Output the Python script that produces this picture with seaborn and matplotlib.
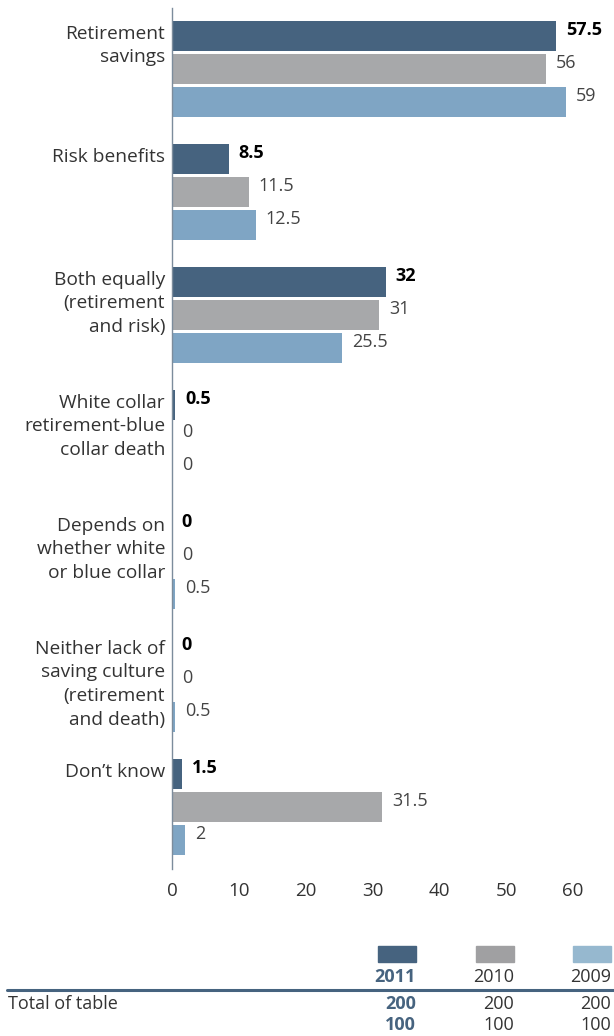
import numpy as np
import pandas as pd
import matplotlib.pyplot as plt
import seaborn as sns
from matplotlib.patches import Rectangle
from matplotlib.lines import Line2D

# data
categories = ["Retirement\nsavings", "Risk benefits", "Both equally\n(retirement\nand risk)",
              "White collar\nretirement-blue\ncollar death", "Depends on\nwhether white\nor blue collar",
              "Neither lack of\nsaving culture\n(retirement\nand death)", "Don\u2019t know"]
years = ["2011", "2010", "2009"]
v2011 = [57.5, 8.5, 32, 0.5, 0, 0, 1.5]
v2010 = [56, 11.5, 31, 0, 0, 0, 31.5]
v2009 = [59, 12.5, 25.5, 0, 0.5, 0.5, 2]
totals = [200, 200, 200]
pcts = [100, 100, 100]

colors = ['#46637F', '#A7A8AA', '#7FA5C4']
legend_colors = ['#46637F', '#A0A0A2', '#96B8CF']

df = pd.DataFrame({
    'category': categories * 3,
    'value': v2011 + v2010 + v2009,
    'year': [y for y in years for _ in categories],
})

sns.set_style('white')
plt.rcParams['font.family'] = ['Open Sans', 'DejaVu Sans']

W, H = 614, 1036
fig = plt.figure(figsize=(W / 100, H / 100), dpi=100)
ax = fig.add_axes([172 / W, 1 - 868.5 / H, 441 / W, 861 / H])

sns.barplot(data=df, y='category', x='value', hue='year', palette=colors, orient='h',
            width=0.8, gap=0.1, legend=False, ax=ax, saturation=1, linewidth=0)

ax.set_xlim(0, 66)
ax.set_ylim(6.5, -0.5)
ax.set_xticks(range(0, 61, 10))
ax.tick_params(axis='x', labelsize=13.5, colors='#333333', length=0, pad=10)
ax.set_yticks([])
ax.set_xlabel('')
ax.set_ylabel('')
for s in ['top', 'right', 'bottom']:
    ax.spines[s].set_visible(False)
ax.spines['left'].set_color('#7C8C9C')
ax.spines['left'].set_linewidth(1)

# category labels aligned at top of each group
for i, cat in enumerate(categories):
    ax.annotate(cat, xy=(0, i - 0.36), xycoords=('axes fraction', 'data'),
                xytext=(-5, 0), textcoords='offset points', ha='right', va='top',
                fontsize=13.8, color='#333333', linespacing=1.4)

# value labels
for k, cont in enumerate(ax.containers):
    for p in cont.patches:
        val = p.get_width()
        ax.annotate(f"{val:g}", xy=(val, p.get_y() + 0.3 * p.get_height()),
                    xytext=(7, 0), textcoords='offset points', ha='left', va='center',
                    fontsize=13, color='black' if k == 0 else '#444444',
                    fontweight='bold' if k == 0 else 'normal')

# bottom table
right_edges = [416, 514, 611]
for j, y in enumerate(years):
    fig.patches.append(Rectangle(((right_edges[j] - 38) / W, 1 - 962 / H), 38 / W, 16 / H,
                                 transform=fig.transFigure, color=legend_colors[j]))
    bold = j == 0
    col = '#46637F' if bold else '#333333'
    fw = 'bold' if bold else 'normal'
    fig.text(right_edges[j] / W, 1 - 977 / H, y, ha='right', va='center', fontsize=13,
             color=col, fontweight=fw)
    fig.text(right_edges[j] / W, 1 - 1004 / H, f"{totals[j]}", ha='right', va='center',
             fontsize=13, color=col, fontweight=fw)
    fig.text(right_edges[j] / W, 1 - 1025 / H, f"{pcts[j]}", ha='right', va='center',
             fontsize=13, color=col, fontweight=fw)

fig.add_artist(Line2D([7 / W, 1], [1 - 990 / H, 1 - 990 / H], transform=fig.transFigure,
                      color='#46637F', linewidth=2.2))
fig.text(8 / W, 1 - 1004 / H, "Total of table", ha='left', va='center', fontsize=13,
         color='#333333')

fig.savefig('out.png', dpi=100)
